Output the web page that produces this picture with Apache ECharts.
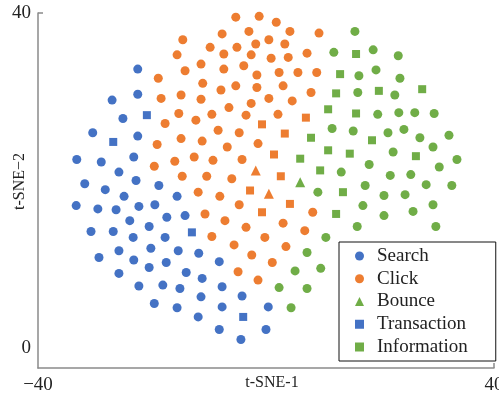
<!DOCTYPE html>
<html>
<head>
<meta charset="utf-8">
<script src="https://cdn.jsdelivr.net/npm/echarts@6/dist/echarts.min.js"></script>
<style>
  html, body { margin: 0; padding: 0; background: #fff; }
  #chart { width: 499px; height: 394px; }
</style>
</head>
<body>
<div id="chart"></div>
<script>
// t-SNE embedding of session events, coordinates [t-SNE-1, t-SNE-2]

// Search sessions (blue circles)
const search = [
  [-22.5, 33.3], [-27.0, 29.6], [-22.5, 30.3], [-25.1, 27.4], [-30.4, 25.7], [-22.5, 25.3],
  [-33.2, 22.5], [-28.9, 22.2], [-23.2, 22.8], [-25.8, 21.0], [-22.8, 20.0], [-31.8, 19.6],
  [-28.2, 18.9], [-18.8, 19.4], [-24.9, 18.1], [-15.6, 18.1], [-33.3, 17.0], [-29.5, 16.6],
  [-26.3, 16.5], [-22.3, 16.9], [-19.5, 17.1], [-23.9, 15.2], [-20.5, 14.5], [-17.4, 15.6],
  [-14.2, 15.8], [-30.7, 13.9], [-26.8, 13.9], [-23.3, 13.2], [-17.7, 13.2], [-25.8, 11.6],
  [-20.2, 11.9], [-15.4, 11.6], [-11.8, 11.3], [-29.3, 10.8], [-23.2, 10.5], [-20.5, 9.6],
  [-17.5, 10.2], [-8.2, 10.3], [-25.8, 8.9], [-14.0, 9.0], [-11.2, 8.3], [-22.3, 7.4],
  [-18.1, 7.5], [-15.1, 7.1], [-7.7, 7.3], [-11.4, 6.1], [-4.2, 6.2], [-19.6, 5.3],
  [-15.6, 4.8], [-7.7, 4.9], [-11.9, 3.7], [-8.2, 2.2], [-4.4, 1.0], [0.4, 4.9], [0.0, 2.2]
];

// Transaction sessions (blue squares)
const transaction = [
  [-20.9, 27.8], [-26.8, 24.6], [-13.0, 13.8], [-4.0, 3.7]
];

// Click sessions (orange circles)
const click = [
  [-5.3, 39.5], [-1.2, 39.6], [-7.7, 37.5], [-3.0, 37.8], [1.8, 38.9], [4.2, 37.8],
  [9.3, 37.6], [-14.6, 36.8], [-9.8, 35.9], [-5.1, 35.9], [-1.8, 36.3], [0.5, 36.8],
  [3.3, 36.3], [-7.4, 35.1], [-2.6, 35.0], [0.9, 34.6], [3.9, 34.7], [7.2, 35.2],
  [-15.6, 35.0], [-11.4, 33.9], [-7.4, 33.3], [-3.9, 33.7], [-14.2, 33.1], [-1.6, 32.6],
  [2.3, 32.9], [5.6, 32.9], [8.9, 32.9], [-18.9, 32.2], [-11.1, 31.6], [-5.3, 31.3],
  [-1.6, 31.1], [3.0, 31.3], [7.9, 30.5], [-7.9, 30.8], [-14.9, 30.2], [-11.4, 29.7],
  [-18.4, 29.8], [0.5, 29.8], [-2.6, 29.2], [4.6, 29.5], [-6.5, 28.7], [-15.3, 28.0],
  [-9.5, 27.9], [-3.5, 27.8], [2.1, 27.9], [-17.7, 26.8], [-12.3, 27.2], [-8.4, 26.0],
  [-4.7, 25.7], [-14.9, 25.0], [-19.1, 24.3], [-11.2, 24.7], [-1.4, 24.4], [-6.8, 24.0],
  [-12.6, 22.8], [-9.3, 22.4], [-4.2, 22.5], [-16.0, 22.3], [-19.6, 21.7], [-14.7, 20.5],
  [-10.4, 20.5], [-6.0, 20.2], [-11.9, 18.6], [-8.1, 18.1], [-4.7, 17.1], [-10.7, 16.0],
  [-7.2, 15.2], [-3.5, 14.4], [-9.5, 13.3], [-5.6, 12.3], [-2.5, 11.1], [-4.9, 9.1],
  [-1.4, 8.1], [1.1, 10.2], [-0.2, 13.2], [3.0, 14.9], [6.8, 14.0], [3.5, 12.1], [8.2, 16.2]
];

// Click-cluster points drawn as squares and triangles
const clickSquares = [
  [-0.7, 26.7], [7.0, 27.5], [3.3, 25.6], [1.4, 23.1], [2.6, 20.5], [-2.8, 18.8], [4.2, 17.2], [-0.7, 16.2]
];
const clickTriangles = [
  [-1.8, 21.2], [0.5, 18.4]
];

// Information cluster: circles, squares (Information) and a triangle (Bounce)
const infoCircles = [
  [15.6, 37.8], [11.9, 35.3], [18.8, 35.6], [23.2, 34.9], [16.3, 32.5], [19.3, 33.2],
  [23.5, 32.2], [16.1, 30.5], [22.6, 30.2], [19.6, 27.9], [23.3, 28.1], [26.1, 28.1],
  [29.5, 28.0], [11.6, 26.2], [15.3, 25.9], [21.4, 25.7], [24.2, 26.1], [27.0, 25.1],
  [32.1, 25.4], [22.3, 23.4], [29.3, 24.0], [33.5, 22.5], [18.1, 21.9], [13.2, 21.0],
  [21.8, 20.6], [25.4, 20.7], [30.4, 21.6], [9.1, 18.6], [17.4, 19.4], [20.7, 18.2],
  [24.4, 18.3], [28.1, 19.5], [32.6, 19.4], [17.0, 17.0], [20.7, 15.8], [25.8, 16.3],
  [29.3, 17.1], [29.8, 14.5], [16.0, 14.5], [10.5, 13.2], [7.2, 11.4], [5.1, 9.2],
  [9.6, 9.5], [2.3, 7.2], [7.2, 7.1], [4.4, 4.8]
];
const information = [
  [15.8, 35.1], [13.0, 32.7], [12.3, 30.4], [19.8, 30.7], [27.4, 30.9], [10.9, 28.5],
  [15.8, 28.0], [7.9, 25.1], [18.6, 24.8], [10.9, 23.6], [14.7, 23.2], [6.0, 22.6],
  [26.3, 22.9], [9.5, 21.2], [13.5, 18.6], [12.3, 16.0]
];
const bounce = [
  [6.0, 19.8]
];

const legendNames = ['Search', 'Click', 'Bounce', 'Transaction', 'Information'];
const xTickLabels = [-40, 40];
const yTickLabels = [0, 40];

const BLUE = '#4472C4';
const ORANGE = '#ED7D31';
const GREEN = '#70AD47';
const FONT = "'Liberation Serif', 'Times New Roman', serif";
const AXIS_COLOR = '#8a8a8a';

function scatter(name, data, symbol, size, color) {
  return {
    name: name,
    type: 'scatter',
    data: data,
    symbol: symbol,
    symbolSize: size,
    itemStyle: { color: color, opacity: 1 },
    emphasis: { disabled: true },
    silent: true
  };
}

const chart = echarts.init(document.getElementById('chart'), null, { renderer: 'canvas' });

chart.setOption({
  animation: false,
  backgroundColor: '#ffffff',
  textStyle: { fontFamily: FONT },
  grid: {
    left: 38, right: 5, top: 13, bottom: 26,
    containLabel: false,
    outerBoundsMode: 'none'
  },
  xAxis: {
    type: 'value',
    min: -40, max: 40, interval: 80,
    name: 't-SNE-1',
    nameLocation: 'middle',
    nameGap: 7,
    nameMoveOverlap: false,
    nameTextStyle: { color: '#222', fontSize: 16, fontFamily: FONT, padding: [0, 0, 0, 12] },
    axisLine: { show: true, onZero: false, lineStyle: { color: AXIS_COLOR, width: 1.5 } },
    axisTick: { show: true, inside: true, length: 5, customValues: [40], lineStyle: { color: AXIS_COLOR, width: 1.5 } },
    axisLabel: {
      customValues: xTickLabels,
      margin: 8,
      color: '#222', fontSize: 19, fontFamily: FONT,
      formatter: v => (v < 0 ? '\u2212' + Math.abs(v) : String(v))
    },
    splitLine: { show: false }
  },
  yAxis: {
    type: 'value',
    min: -2.4, max: 40,
    name: 't-SNE\u22122',
    nameLocation: 'middle',
    nameGap: 10,
    nameRotate: 90,
    nameMoveOverlap: false,
    nameTextStyle: { color: '#222', fontSize: 16, fontFamily: FONT, padding: [0, 0, 0, 18] },
    axisLine: { show: true, onZero: false, lineStyle: { color: AXIS_COLOR, width: 1.5 } },
    axisTick: { show: true, inside: true, length: 5, customValues: [40], lineStyle: { color: AXIS_COLOR, width: 1.5 } },
    axisLabel: {
      customValues: yTickLabels,
      margin: 7,
      color: '#222', fontSize: 19, fontFamily: FONT
    },
    splitLine: { show: false }
  },
  legend: {
    data: legendNames,
    orient: 'vertical',
    left: 339, top: 242,
    padding: [4, 28, 4, 16],
    itemWidth: 9, itemHeight: 9,
    itemGap: 2.75,
    backgroundColor: '#ffffff',
    borderColor: '#111',
    borderWidth: 1,
    borderRadius: 0,
    selectedMode: false,
    textStyle: { color: '#222', fontSize: 19, lineHeight: 20, fontFamily: FONT, padding: [0, 0, 0, 8] }
  },
  series: [
    scatter('Search', search, 'circle', 9, BLUE),
    scatter('Click', click, 'circle', 9, ORANGE),
    scatter('Bounce', bounce, 'triangle', 10, GREEN),
    scatter('Transaction', transaction, 'rect', 8, BLUE),
    scatter('Information', information, 'rect', 8, GREEN),
    scatter('Click (square)', clickSquares, 'rect', 8, ORANGE),
    scatter('Click (triangle)', clickTriangles, 'triangle', 10, ORANGE),
    scatter('Information (circle)', infoCircles, 'circle', 9, GREEN)
  ]
});
</script>
</body>
</html>
